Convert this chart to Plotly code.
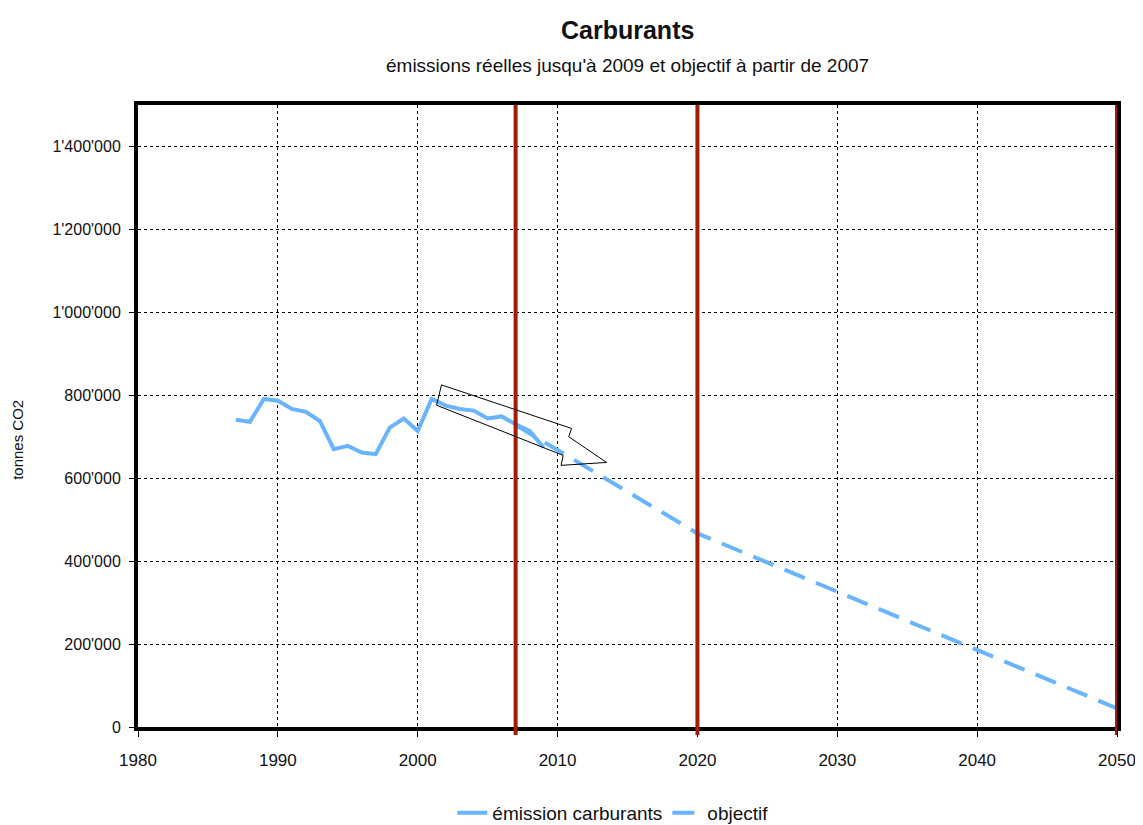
import plotly.graph_objects as go

# ---- data ----
years_actual = list(range(1987, 2010))
emissions = [741000, 736000, 791000, 787000, 767000, 760000, 738000, 670000,
             678000, 662000, 658000, 722000, 744000, 714000, 791000, 775000,
             767000, 763000, 744000, 749000, 730000, 714000, 674000]

objective_years = [2007, 2020, 2050]
objective_values = [728000, 467000, 45000]

milestone_years = [2007, 2020, 2050]

y_tickvals = [0, 200000, 400000, 600000, 800000, 1000000, 1200000, 1400000]
y_ticktext = ["0", "200'000", "400'000", "600'000", "800'000",
              "1'000'000", "1'200'000", "1'400'000"]
x_tickvals = [1980, 1990, 2000, 2010, 2020, 2030, 2040, 2050]

# trend arrow outline (decoration, data coordinates)
arrow_x = [2001.7, 2011.0, 2010.8, 2013.5, 2010.25, 2010.4, 2001.35]
arrow_y = [825000, 720000, 700000, 638000, 631000, 655000, 776000]

BLUE = "#6AB4FF"
RED = "#A31A05"
FONT = "Liberation Sans, Arial, sans-serif"

# the page body adds an 8px offset, so the figure is 8px smaller on each axis
W, H = 1135, 817

fig = go.Figure()
fig.add_trace(go.Scatter(
    x=years_actual, y=emissions, mode="lines", name="émission carburants",
    line=dict(color=BLUE, width=4)))
fig.add_trace(go.Scatter(
    x=objective_years, y=objective_values, mode="lines", name="objectif",
    line=dict(color=BLUE, width=4, dash="22px,12px")))

shapes = []
for yr in milestone_years:
    shapes.append(dict(type="line", xref="x", yref="paper", x0=yr, x1=yr,
                       y0=-0.013, y1=1, line=dict(color=RED, width=4),
                       layer="above"))

path = "M " + " L ".join(f"{x},{y}" for x, y in zip(arrow_x, arrow_y)) + " Z"
shapes.append(dict(type="path", xref="x", yref="y", path=path,
                   line=dict(color="black", width=1),
                   fillcolor="rgba(0,0,0,0)", layer="above"))

fig.update_layout(
    width=W, height=H,
    margin=dict(l=130, r=26, t=97, b=98, autoexpand=False),
    paper_bgcolor="white", plot_bgcolor="white",
    font=dict(family=FONT, color="#111", size=15),
    showlegend=True,
    legend=dict(orientation="h", x=0.485, xanchor="center", y=-0.138,
                yanchor="middle", font=dict(size=19, family=FONT),
                tracegroupgap=0),
    shapes=shapes,
    annotations=[
        dict(text="<b>Carburants</b>", x=0.5, y=1.121, xref="paper",
             yref="paper", showarrow=False, font=dict(size=25, family=FONT),
             xanchor="center", yanchor="middle"),
        dict(text="émissions réelles jusqu'à 2009 et objectif à partir de 2007",
             x=0.5, y=1.063, xref="paper", yref="paper", showarrow=False,
             font=dict(size=19, family=FONT), xanchor="center",
             yanchor="middle"),
        dict(text="tonnes CO2", x=-0.123, y=0.461, xref="paper",
             yref="paper", showarrow=False, textangle=-90,
             font=dict(size=15, family=FONT), xanchor="center",
             yanchor="middle"),
    ],
)

fig.update_xaxes(
    range=[1980, 2050], tickvals=x_tickvals, showline=True, linewidth=4,
    linecolor="black", mirror=True, ticks="outside", ticklen=6,
    tickcolor="black", tickwidth=1, tickfont=dict(size=17, family=FONT),
    ticklabelstandoff=9, automargin=False,
    showgrid=True, gridcolor="black", gridwidth=1, griddash="3px,3px",
    zeroline=False)
fig.update_yaxes(
    range=[0, 1500000], tickvals=y_tickvals, ticktext=y_ticktext,
    showline=True, linewidth=4, linecolor="black", mirror=True,
    ticks="outside", ticklen=5, tickcolor="black", tickwidth=1,
    tickfont=dict(size=16, family=FONT), ticklabelstandoff=5,
    automargin=False,
    showgrid=True, gridcolor="black", gridwidth=1, griddash="3px,3px",
    zeroline=False)

fig.write_html("out.html")
